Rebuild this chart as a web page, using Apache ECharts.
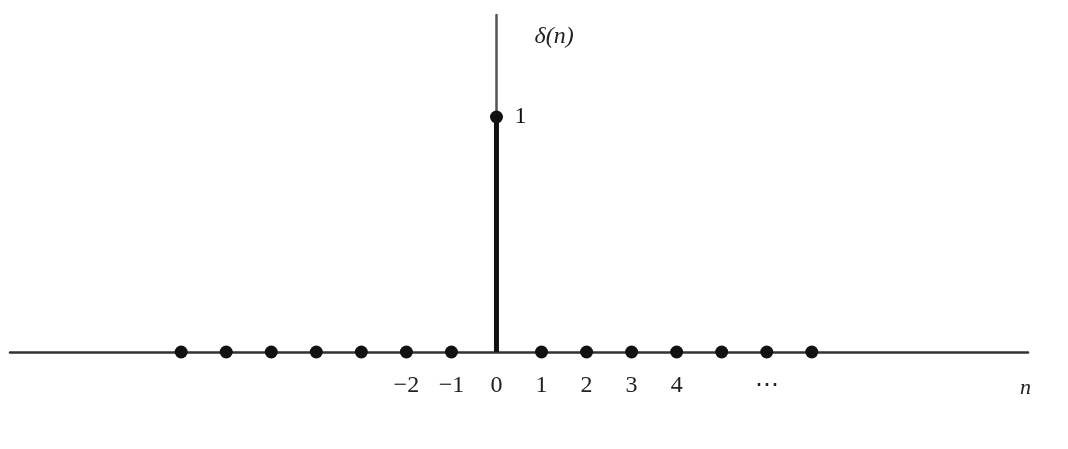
<!DOCTYPE html>
<html><head><meta charset="utf-8">
<script src="https://cdn.jsdelivr.net/npm/echarts@6/dist/echarts.min.js"></script>
<style>html,body{margin:0;padding:0;background:#fff}#c{width:1068px;height:449px}</style>
</head><body><div id="c"></div>
<script>
const nValues = [-7,-6,-5,-4,-3,-2,-1,0,1,2,3,4,5,6,7];
const deltaValues = [0,0,0,0,0,0,0,1,0,0,0,0,0,0,0];
const xTickValues = [-2,-1,0,1,2,3,4,6];
const xTickLabels = ['\u22122','\u22121','0','1','2','3','4','\u22ef'];
const yTickValues = [1];
const yTickLabels = ['1'];

const chart = echarts.init(document.getElementById('c'));
const font = "'Liberation Serif','DejaVu Serif',serif";
const points = nValues.map((n,i)=>[n, deltaValues[i]]);
const series = [];
nValues.forEach((n,i)=>{
  if(deltaValues[i]!==0){
    series.push({type:'line',data:[[n,0],[n,deltaValues[i]]],showSymbol:false,
      lineStyle:{color:'#111',width:5},z:3,animation:false});
  }
});
series.push({type:'scatter',data:points,symbolSize:13,itemStyle:{color:'#111',opacity:1},z:4,animation:false});
// y tick labels drawn next to the vertical axis (at n = 0)
series.push({type:'scatter',data:yTickValues.map(v=>[0,v]),symbolSize:0,silent:true,z:5,
  itemStyle:{opacity:1,color:'#111'},
  label:{show:true,position:'right',distance:18,opacity:1,
    formatter:p=>yTickLabels[yTickValues.indexOf(p.value[1])],
    color:'#111',fontFamily:font,fontSize:24}});

chart.setOption({
  animation:false,
  grid:{left:10,right:40,top:15,bottom:97,containLabel:false},
  xAxis:{type:'value',min:-10.8,max:11.8,
    axisLine:{onZero:true,lineStyle:{color:'#333',width:2.5}},
    axisTick:{show:false},splitLine:{show:false},
    axisLabel:{customValues:xTickValues,margin:22,
      formatter:v=>{const i=xTickValues.indexOf(v);return i>=0?xTickLabels[i]:'';},
      color:'#222',fontFamily:font,fontSize:24},
    name:'n',nameLocation:'end',nameGap:-8,
    nameTextStyle:{fontFamily:font,fontStyle:'italic',fontSize:22,color:'#222',verticalAlign:'top',padding:[25,0,0,0]}
  },
  yAxis:{type:'value',min:0,max:1.434,
    axisLine:{onZero:true,lineStyle:{color:'#555',width:2.5}},
    axisTick:{show:false},splitLine:{show:false},
    axisLabel:{show:false},
    name:'\u03b4(n)',nameLocation:'end',nameGap:-34,
    nameTextStyle:{fontFamily:font,fontStyle:'italic',fontSize:24,color:'#222',align:'left',padding:[0,0,0,38]}
  },
  series:series
});
</script></body></html>
